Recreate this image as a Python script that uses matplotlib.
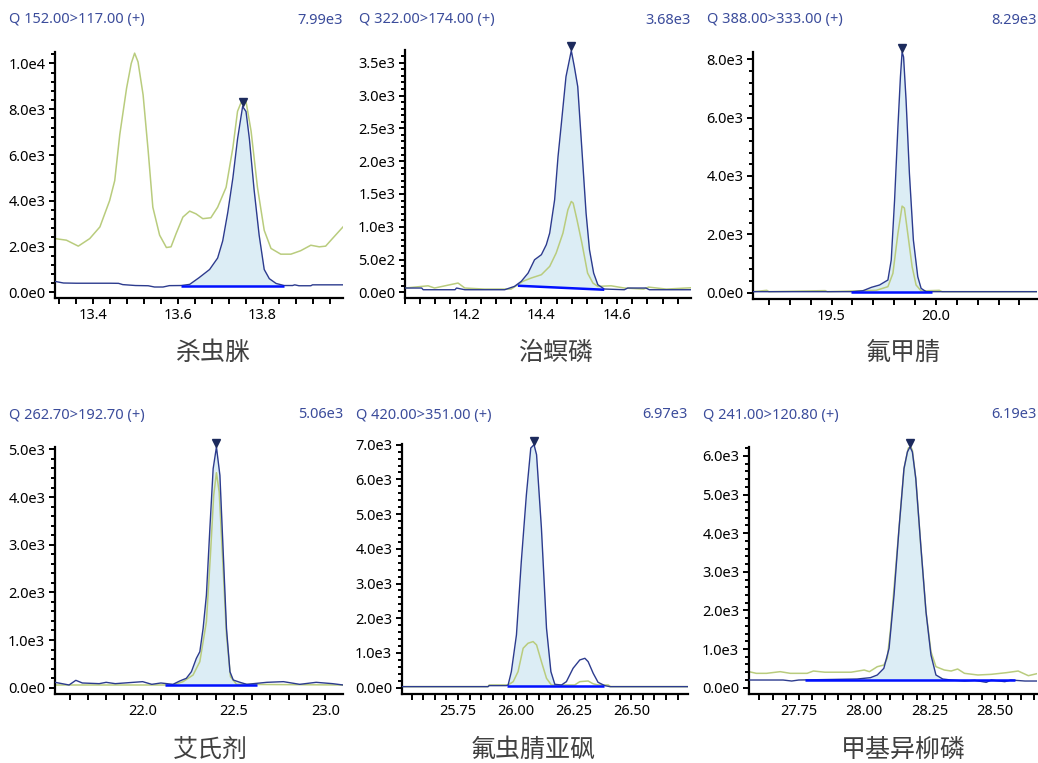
import numpy as np
import matplotlib
matplotlib.use("Agg")
import matplotlib.pyplot as plt
import matplotlib.transforms as mtransforms
from matplotlib.ticker import MultipleLocator, AutoMinorLocator, FormatStrFormatter, FuncFormatter

plt.rcParams['font.family'] = ['Noto Sans', 'Noto Sans CJK SC', 'DejaVu Sans']

# ---- data ----
names = ['杀虫脒', '治螟磷', '氟甲腈', '艾氏剂', '氟虫腈亚砜', '甲基异柳磷']
transitions = ['Q 152.00>117.00 (+)', 'Q 322.00>174.00 (+)', 'Q 388.00>333.00 (+)',
               'Q 262.70>192.70 (+)', 'Q 420.00>351.00 (+)', 'Q 241.00>120.80 (+)']
max_labels = ['7.99e3', '3.68e3', '8.29e3', '5.06e3', '6.97e3', '6.19e3']

quant_t1 = [13.31, 13.33, 13.36, 13.40, 13.44, 13.46, 13.47, 13.50, 13.53, 13.545, 13.565, 13.58,
            13.608, 13.628, 13.65, 13.675, 13.694, 13.706, 13.718, 13.73, 13.741, 13.753, 13.761,
            13.769, 13.78, 13.792, 13.804, 13.816, 13.832, 13.851, 13.871, 13.876, 13.886, 13.914,
            13.918, 13.95, 13.99]
quant_y1 = [480, 410, 400, 400, 400, 395, 340, 300, 290, 235, 235, 295, 300, 350, 640, 1000, 1500,
            2250, 3500, 5000, 6700, 8120, 7900, 6700, 4500, 2500, 1000, 600, 390, 300, 300, 330,
            290, 290, 330, 330, 330]
qual_t1 = [13.31, 13.337, 13.365, 13.392, 13.416, 13.439, 13.451, 13.463, 13.479, 13.49, 13.498,
           13.506, 13.518, 13.53, 13.541, 13.557, 13.573, 13.584, 13.596, 13.612, 13.628, 13.643,
           13.659, 13.678, 13.694, 13.714, 13.73, 13.741, 13.753, 13.761, 13.773, 13.788, 13.804,
           13.82, 13.843, 13.867, 13.89, 13.914, 13.934, 13.949, 13.965, 13.99]
qual_y1 = [2350, 2280, 2020, 2350, 2860, 4010, 4880, 6900, 8920, 10000, 10450, 10070, 8630, 6180,
           3720, 2500, 1960, 1990, 2570, 3290, 3550, 3430, 3220, 3260, 3720, 4590, 6320, 7910,
           8460, 8340, 7040, 4590, 2710, 1920, 1670, 1670, 1820, 2060, 1990, 2020, 2350, 2860]

quant_t2 = [14.04, 14.084, 14.088, 14.172, 14.176, 14.198, 14.303, 14.329, 14.347, 14.365, 14.382,
            14.40, 14.413, 14.422, 14.435, 14.444, 14.452, 14.465, 14.474, 14.479, 14.487, 14.496,
            14.507, 14.518, 14.527, 14.538, 14.549, 14.566, 14.619, 14.628, 14.676, 14.685, 14.795]
quant_y2 = [66, 66, 40, 40, 66, 40, 40, 91, 168, 294, 497, 574, 726, 904, 1411, 2071, 2528, 3289,
            3543, 3685, 3442, 3137, 2173, 1208, 650, 294, 117, 51, 40, 66, 66, 40, 40]
qual_t2 = [14.04, 14.101, 14.118, 14.18, 14.198, 14.25, 14.32, 14.338, 14.351, 14.373, 14.40,
           14.422, 14.439, 14.457, 14.47, 14.479, 14.484, 14.494, 14.507, 14.522, 14.536, 14.549,
           14.584, 14.619, 14.67, 14.683, 14.73, 14.795]
qual_y2 = [66, 100, 66, 142, 66, 50, 50, 117, 168, 218, 269, 396, 599, 904, 1259, 1386, 1360, 1107,
           751, 294, 142, 91, 100, 66, 50, 80, 50, 70]

quant_t3 = [19.124, 19.60, 19.651, 19.691, 19.73, 19.77, 19.786, 19.802, 19.818, 19.83, 19.838,
            19.845, 19.857, 19.873, 19.892, 19.913, 19.929, 19.953, 20.484]
quant_y3 = [34, 34, 68, 183, 263, 434, 1119, 3174, 5685, 7397, 8250, 8082, 6598, 4087, 1804, 548,
            148, 34, 34]
qual_t3 = [19.124, 19.19, 19.20, 19.47, 19.48, 19.714, 19.77, 19.794, 19.818, 19.838, 19.849,
           19.865, 19.886, 19.905, 19.929, 20.016, 20.03, 20.484]
qual_y3 = [34, 80, 34, 70, 34, 80, 205, 662, 2032, 2968, 2900, 2032, 890, 263, 60, 80, 34, 34]

quant_t4 = [21.52, 21.597, 21.634, 21.67, 21.762, 21.80, 21.85, 22.0, 22.05, 22.10, 22.166, 22.203,
            22.239, 22.267, 22.294, 22.313, 22.331, 22.349, 22.368, 22.386, 22.404, 22.423, 22.441,
            22.459, 22.478, 22.496, 22.533, 22.57, 22.68, 22.771, 22.86, 22.95, 23.04, 23.098]
quant_y4 = [112, 56, 154, 98, 84, 112, 84, 126, 70, 98, 70, 140, 196, 335, 615, 754, 1243, 1941,
            3338, 4595, 5049, 4455, 2849, 1243, 335, 161, 112, 70, 112, 126, 70, 112, 84, 56]
qual_t4 = [21.52, 22.166, 22.221, 22.276, 22.313, 22.349, 22.371, 22.389, 22.404, 22.419, 22.437,
           22.459, 22.481, 22.514, 23.098]
qual_y4 = [56, 56, 126, 265, 545, 1383, 2779, 4036, 4511, 4106, 2779, 1103, 230, 70, 56]

quant_t5 = [25.508, 25.88, 25.885, 25.96, 25.967, 25.981, 26.003, 26.024, 26.046, 26.065, 26.079,
            26.09, 26.111, 26.133, 26.152, 26.169, 26.198, 26.219, 26.248, 26.277, 26.299, 26.313,
            26.335, 26.356, 26.385, 26.407, 26.745]
quant_y5 = [29, 29, 58, 58, 77, 462, 1519, 3635, 5558, 6904, 7000, 6712, 4596, 1712, 462, 96, 77,
            173, 558, 798, 846, 750, 413, 154, 58, 29, 29]
qual_t5 = [25.508, 25.88, 25.885, 25.967, 25.989, 26.01, 26.032, 26.053, 26.075, 26.09, 26.111,
           26.133, 26.154, 26.255, 26.277, 26.313, 26.335, 26.356, 26.40, 26.41, 26.745]
qual_y5 = [29, 29, 77, 77, 173, 462, 1135, 1279, 1327, 1231, 750, 269, 77, 77, 173, 192, 110, 77,
           77, 29, 29]

quant_t6 = [27.56, 27.69, 27.723, 27.75, 27.973, 28.024, 28.05, 28.075, 28.095, 28.114, 28.133,
            28.152, 28.165, 28.175, 28.184, 28.197, 28.216, 28.236, 28.255, 28.274, 28.30, 28.332,
            28.383, 28.422, 28.466, 28.485, 28.537, 28.56, 28.614, 28.672]
quant_y6 = [198, 198, 172, 198, 224, 259, 328, 500, 1017, 2397, 4121, 5672, 6103, 6233, 6103, 5414,
            3690, 1966, 845, 328, 224, 198, 172, 190, 138, 198, 155, 198, 172, 172]
qual_t6 = [27.56, 27.588, 27.627, 27.679, 27.718, 27.782, 27.806, 27.85, 27.95, 28.0, 28.02, 28.05,
           28.075, 28.088, 28.101, 28.116, 28.133, 28.152, 28.168, 28.175, 28.184, 28.197, 28.216,
           28.236, 28.255, 28.274, 28.306, 28.332, 28.357, 28.383, 28.434, 28.485, 28.543, 28.588,
           28.627, 28.665]
qual_y6 = [414, 371, 371, 414, 371, 371, 431, 400, 400, 457, 414, 543, 586, 759, 1534, 2741, 4121,
           5672, 6190, 6276, 6147, 5414, 3690, 1966, 931, 543, 457, 431, 483, 371, 328, 345, 388,
           431, 310, 371]

# integration baseline: (t_start, y_start, t_end, y_end) and where the shaded area stops
baselines = [(13.608, 300, 13.851, 300), (14.338, 101, 14.566, 40), (19.595, 34, 19.981, 34),
             (22.12, 56, 22.625, 56), (25.96, 58, 26.383, 58), (27.774, 198, 28.575, 198)]
fill_ends = [13.851, 14.566, 19.981, 22.625, 26.175, 28.575]
apex_t = [13.753, 14.479, 19.838, 22.404, 26.079, 28.175]

quant_t = [quant_t1, quant_t2, quant_t3, quant_t4, quant_t5, quant_t6]
quant_y = [quant_y1, quant_y2, quant_y3, quant_y4, quant_y5, quant_y6]
qual_t = [qual_t1, qual_t2, qual_t3, qual_t4, qual_t5, qual_t6]
qual_y = [qual_y1, qual_y2, qual_y3, qual_y4, qual_y5, qual_y6]

# ---- layout (pixels) ----
W, H = 1038, 763
boxes = [(55, 52, 343, 298), (405, 50, 691, 298), (753, 52, 1037, 299),
         (55, 447, 343, 694), (402, 444, 688, 694), (749, 447, 1037, 694)]
xlims = [(13.31, 13.99), (14.04, 14.795), (19.124, 20.484),
         (21.52, 23.097), (25.508, 26.745), (27.56, 28.66)]
ylims = [(-245, 10500), (-86, 3695), (-217, 8250), (-133, 5050), (-183, 7020), (-164, 6230)]
x_major = [0.2, 0.2, 0.5, 0.5, 0.25, 0.25]
x_fmt = ['%.1f', '%.1f', '%.1f', '%.1f', '%.2f', '%.2f']
y_major = [2000, 500, 2000, 1000, 1000, 1000]
header_y = [20, 20, 20, 415, 415, 415]
name_pos = [(213, 353), (556, 353), (903, 353), (210, 750), (533, 750), (903, 750)]

QUANT = '#2c3b8e'
QUAL = '#b9cc7d'
FILL = '#dcedf5'
BASE = '#0010ff'
HEAD = '#3b4c9b'


def sci_fmt(v, pos):
    if abs(v) < 1e-9:
        return '0.0e0'
    e = int(np.floor(np.log10(abs(v)) + 1e-9))
    return f'{v / 10 ** e:.1f}e{e}'


fig = plt.figure(figsize=(W / 100, H / 100), dpi=100)

for i in range(6):
    l, t, r, b = boxes[i]
    ax = fig.add_axes([l / W, 1 - b / H, (r - l) / W, (b - t) / H])

    qt = np.array(quant_t[i])
    qy = np.array(quant_y[i])
    t0, y0, t1, y1 = baselines[i]
    m = (qt >= t0) & (qt <= fill_ends[i])
    ft = np.concatenate(([t0], qt[m], [fill_ends[i]]))
    fy = np.interp(ft, qt, qy)
    fb = np.interp(ft, [t0, t1], [y0, y1])
    ax.fill_between(ft, fb, fy, color=FILL, lw=0, zorder=1)

    ax.plot(qual_t[i], qual_y[i], color=QUAL, lw=1.1, zorder=2)
    ax.plot(qt, qy, color=QUANT, lw=1.0, zorder=3)
    ax.plot([t0, t1], [y0, y1], color=BASE, lw=1.8, zorder=4, solid_capstyle='butt')

    apex_y = np.interp(apex_t[i], qt, qy)
    off = mtransforms.offset_copy(ax.transData, fig=fig, x=0, y=3, units='points')
    ax.plot(apex_t[i], apex_y, marker='v', ms=5.5, color='#1c2a5c', transform=off,
            clip_on=False, zorder=5)

    ax.set_xlim(*xlims[i])
    ax.set_ylim(*ylims[i])
    for s in ('top', 'right'):
        ax.spines[s].set_visible(False)
    for s in ('left', 'bottom'):
        ax.spines[s].set_linewidth(1.6)

    ax.xaxis.set_major_locator(MultipleLocator(x_major[i]))
    ax.xaxis.set_major_formatter(FormatStrFormatter(x_fmt[i]))
    ax.xaxis.set_minor_locator(AutoMinorLocator(5))
    ax.yaxis.set_major_locator(MultipleLocator(y_major[i]))
    ax.yaxis.set_major_formatter(FuncFormatter(sci_fmt))
    ax.yaxis.set_minor_locator(AutoMinorLocator(5))
    ax.tick_params(which='major', length=4, width=1.4, labelsize=10.5, pad=3)
    ax.tick_params(which='minor', length=3, width=1.4)
    ax.tick_params(axis='x', which='both', length=4)

    hx = l - 46
    fig.text(hx / W, 1 - header_y[i] / H, transitions[i], color=HEAD, fontsize=10.5,
             ha='left', va='center')
    fig.text(r / W, 1 - header_y[i] / H, max_labels[i], color=HEAD, fontsize=10.5,
             ha='right', va='center')
    nx, ny = name_pos[i]
    fig.text(nx / W, 1 - ny / H, names[i], color='#404040', fontsize=18,
             ha='center', va='center', family=['Noto Sans CJK SC', 'DejaVu Sans'])

fig.savefig('out.png', dpi=100)
